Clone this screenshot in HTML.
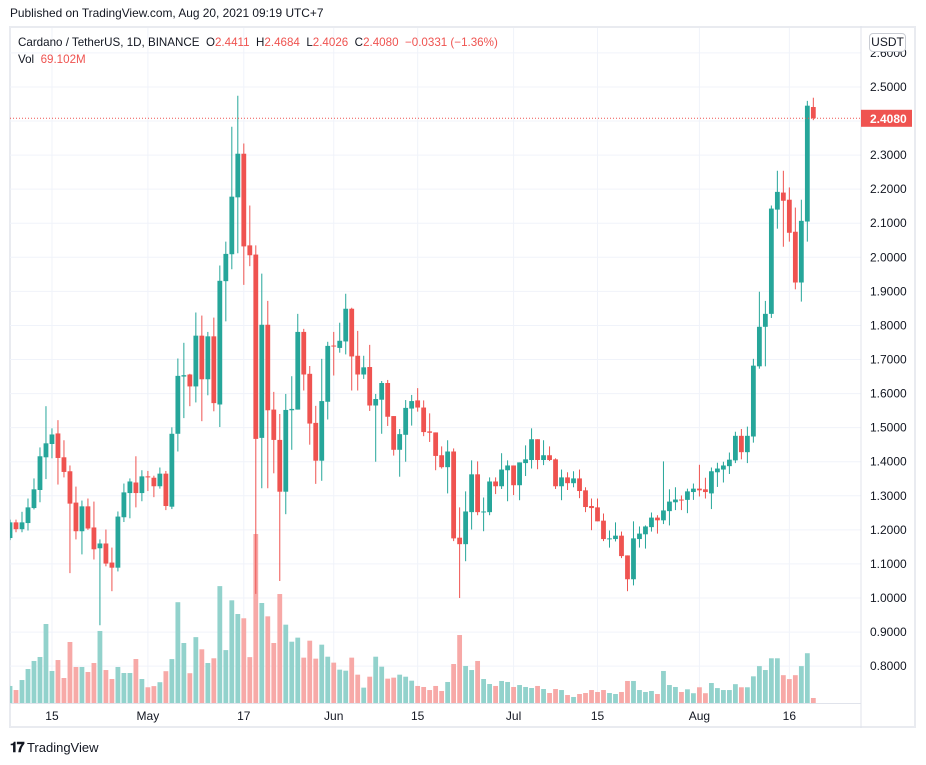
<!DOCTYPE html>
<html><head><meta charset="utf-8"><title>Cardano / TetherUS</title>
<style>
html,body{margin:0;padding:0;background:#fff;}
body{width:926px;height:765px;position:relative;overflow:hidden;font-family:"Liberation Sans",sans-serif;color:#131722;}
#pub{position:absolute;left:10px;top:6px;font-size:11.9px;color:#131722;}
#frame{position:absolute;left:9px;top:26px;width:907px;height:702px;border:2px solid #e9ebf0;box-sizing:border-box;}
#legend{position:absolute;left:18px;top:34px;font-size:11.6px;line-height:17px;}
#legend .r{color:#ef5350;}
#usdt{position:absolute;left:869px;top:33px;width:35px;height:17px;border:1px solid #c9ccd3;border-radius:4px;background:#fff;font-size:12px;text-align:center;line-height:17px;}
#logo{position:absolute;left:10px;top:739px;font-size:13px;color:#131722;}
svg{position:absolute;left:0;top:0;}
</style></head><body>
<div id="pub">Published on TradingView.com, Aug 20, 2021 09:19 UTC+7</div>
<div id="frame"></div>
<svg id="chart" width="926" height="765"></svg>
<div id="legend">Cardano / TetherUS, 1D, BINANCE&nbsp; O<span class="r">2.4411</span>&nbsp; H<span class="r">2.4684</span>&nbsp; L<span class="r">2.4026</span>&nbsp; C<span class="r">2.4080</span>&nbsp; <span class="r">−0.0331 (−1.36%)</span><br>Vol&nbsp; <span class="r">69.102M</span></div>
<div id="usdt">USDT</div>
<div id="logo"><b style="font-size:14px;letter-spacing:-1px">𝟏𝟕</b> TradingView</div>
<script>
const opens=[1.176,1.222,1.202,1.220,1.264,1.317,1.413,1.452,1.483,1.413,1.372,1.28,1.196,1.269,1.207,1.146,1.16,1.104,1.089,1.237,1.308,1.339,1.308,1.357,1.353,1.328,1.365,1.268,1.482,1.650,1.656,1.621,1.770,1.642,1.768,1.568,1.930,2.009,2.176,2.304,2.035,2.008,1.470,1.802,1.553,1.464,1.312,1.551,1.553,1.781,1.658,1.514,1.403,1.576,1.741,1.734,1.753,1.849,1.711,1.656,1.678,1.565,1.582,1.631,1.534,1.435,1.479,1.556,1.580,1.559,1.489,1.486,1.419,1.384,1.430,1.177,1.158,1.252,1.363,1.252,1.252,1.342,1.328,1.375,1.389,1.331,1.396,1.405,1.466,1.405,1.419,1.407,1.328,1.354,1.337,1.351,1.316,1.27,1.266,1.227,1.173,1.173,1.183,1.125,1.055,1.173,1.187,1.208,1.236,1.228,1.255,1.281,1.289,1.288,1.311,1.321,1.319,1.307,1.369,1.377,1.387,1.404,1.476,1.428,1.474,1.680,1.796,1.834,2.140,2.190,2.169,2.075,1.926,2.105,2.4411];
const highs=[1.23,1.230,1.253,1.292,1.351,1.442,1.563,1.498,1.522,1.463,1.389,1.327,1.286,1.292,1.283,1.172,1.201,1.148,1.254,1.336,1.351,1.416,1.375,1.373,1.359,1.383,1.373,1.501,1.703,1.749,1.658,1.838,1.829,1.781,1.823,1.976,2.046,2.383,2.474,2.334,2.152,2.035,1.952,1.872,1.605,1.540,1.599,1.651,1.834,1.790,1.681,1.564,1.702,1.752,1.781,1.808,1.893,1.852,1.784,1.711,1.743,1.599,1.637,1.640,1.534,1.496,1.581,1.596,1.616,1.580,1.542,1.486,1.445,1.463,1.439,1.266,1.313,1.404,1.401,1.295,1.354,1.354,1.425,1.404,1.389,1.398,1.448,1.498,1.466,1.463,1.445,1.41,1.377,1.369,1.372,1.377,1.325,1.292,1.292,1.248,1.198,1.222,1.195,1.125,1.225,1.210,1.213,1.251,1.243,1.401,1.319,1.325,1.301,1.321,1.336,1.391,1.353,1.383,1.397,1.400,1.427,1.488,1.496,1.503,1.702,1.899,1.872,2.152,2.254,2.254,2.205,2.146,2.169,2.459,2.4684];
const lows=[1.17,1.193,1.193,1.198,1.26,1.281,1.349,1.41,1.333,1.354,1.073,1.172,1.128,1.2,1.113,0.92,1.093,1.02,1.078,1.223,1.234,1.266,1.284,1.314,1.296,1.321,1.258,1.261,1.430,1.528,1.563,1.574,1.519,1.595,1.548,1.502,1.812,1.965,2.012,1.919,1.974,1.012,1.322,1.322,1.366,1.050,1.246,1.435,1.553,1.609,1.45,1.335,1.344,1.524,1.653,1.720,1.715,1.609,1.609,1.643,1.549,1.4,1.482,1.505,1.418,1.356,1.4,1.506,1.547,1.475,1.458,1.375,1.38,1.307,1.167,1.0,1.108,1.201,1.243,1.196,1.243,1.305,1.320,1.284,1.302,1.287,1.358,1.380,1.378,1.390,1.402,1.320,1.287,1.317,1.325,1.293,1.252,1.199,1.225,1.167,1.148,1.166,1.117,1.02,1.037,1.148,1.145,1.195,1.189,1.217,1.213,1.258,1.258,1.249,1.288,1.298,1.292,1.261,1.326,1.339,1.364,1.396,1.407,1.396,1.456,1.673,1.680,1.822,2.084,2.031,2.046,1.906,1.870,2.046,2.4026];
const closes=[1.222,1.202,1.222,1.266,1.319,1.416,1.454,1.480,1.411,1.37,1.277,1.196,1.269,1.204,1.143,1.16,1.101,1.089,1.239,1.31,1.342,1.308,1.357,1.354,1.328,1.365,1.270,1.482,1.652,1.654,1.621,1.770,1.642,1.768,1.572,1.931,2.010,2.178,2.304,2.032,2.006,1.467,1.802,1.551,1.464,1.312,1.552,1.555,1.781,1.656,1.512,1.403,1.578,1.740,1.739,1.755,1.849,1.709,1.656,1.677,1.565,1.584,1.631,1.532,1.435,1.481,1.558,1.578,1.559,1.487,1.485,1.417,1.384,1.430,1.175,1.158,1.254,1.363,1.252,1.254,1.342,1.328,1.377,1.389,1.331,1.398,1.407,1.466,1.405,1.419,1.405,1.328,1.354,1.337,1.351,1.314,1.267,1.264,1.225,1.173,1.175,1.183,1.123,1.055,1.175,1.189,1.210,1.236,1.228,1.257,1.283,1.289,1.287,1.313,1.321,1.316,1.311,1.372,1.380,1.389,1.406,1.476,1.428,1.476,1.682,1.796,1.834,2.143,2.192,2.166,2.072,1.926,2.107,2.445,2.4080];
const volumes=[235,179,317,469,580,635,1090,442,593,345,842,497,497,428,552,994,455,331,497,414,414,607,331,217,233,287,439,606,1391,828,411,909,741,552,617,1613,730,1417,1228,1169,633,2332,1380,1196,828,1504,1081,846,902,626,860,612,805,639,557,460,446,626,391,212,363,639,501,336,350,391,363,308,235,221,179,235,166,290,538,938,511,455,580,331,262,235,304,290,221,248,221,207,235,193,138,193,179,110,83,124,138,179,152,179,138,124,152,304,304,179,152,166,124,442,248,221,152,189,135,217,135,276,206,179,179,260,217,217,368,509,455,617,617,384,330,384,509,687,69.1];
const priceTicks=[0.8,0.9,1.0,1.1,1.2,1.3,1.4,1.5,1.6,1.7,1.8,1.9,2.0,2.1,2.2,2.3,2.4,2.5,2.6];
const dateTickLabels=["15","May","17","Jun","15","Jul","15","Aug","16"];
const dateTickIndex=[7,23,39,54,68,84,98,115,130];
const lastPrice=2.4080;

const NS="http://www.w3.org/2000/svg";
const svg=document.getElementById('chart');
const PL=10,PR=861,PT=28,PB=703;
function yPrice(p){return 598-(p-1)*340.7;}
function xIdx(i){return 10+i*5.995;}
function yVol(v){return PB-v/13.8;}
function mk(tag,attrs,parent){const e=document.createElementNS(NS,tag);for(const k in attrs)e.setAttribute(k,attrs[k]);(parent||svg).appendChild(e);return e;}

const defs=mk('defs',{});
const cp=mk('clipPath',{id:'clip'},defs);
mk('rect',{x:PL,y:PT,width:PR-PL,height:PB-PT},cp);

const grid=mk('g',{'clip-path':'url(#clip)'});


priceTicks.forEach(p=>{const y=yPrice(p);mk('line',{x1:PL,x2:PR,y1:y,y2:y,stroke:'#f0f3fa','stroke-width':1},grid);});
dateTickIndex.forEach(i=>{const x=xIdx(i);mk('line',{x1:x,x2:x,y1:PT,y2:PB,stroke:'#f0f3fa','stroke-width':1},grid);});

const vg=mk('g',{'clip-path':'url(#clip)'});


volumes.forEach((v,i)=>{const up=closes[i]>=opens[i];const y=yVol(v);
 const r=mk('rect',{x:xIdx(i)-2.4,y:y,width:4.8,height:PB-y,fill:up?'#92d2cc':'#f7a9a7'},vg);
 
 });

const cg=mk('g',{'clip-path':'url(#clip)'});


opens.forEach((o,i)=>{const c=closes[i];const up=c>=o;const col=up?'#26a69a':'#ef5350';const x=xIdx(i);
 const g=mk('g',{},cg);
 
 
 mk('line',{x1:x,x2:x,y1:yPrice(highs[i]),y2:yPrice(lows[i]),stroke:col,'stroke-width':1},g);
 const yt=yPrice(Math.max(o,c)),yb=yPrice(Math.min(o,c));
 mk('rect',{x:x-2.4,y:yt,width:4.8,height:Math.max(1,yb-yt),fill:col},g);});

const ly=yPrice(lastPrice);
const pl=mk('line',{x1:PL,x2:PR,y1:ly,y2:ly,stroke:'#ef5350','stroke-width':1,'stroke-dasharray':'1,2'});



const sep=mk('line',{x1:PR,x2:PR,y1:PT-2,y2:728,stroke:'#e0e3eb','stroke-width':1});


const base=mk('line',{x1:PL,x2:PR,y1:PB+0.5,y2:PB+0.5,stroke:'#e0e3eb','stroke-width':1});



const pa=mk('g',{});


priceTicks.forEach(p=>{const y=yPrice(p);if(y<40||y>690)return;
 const t=mk('text',{x:870,y:y+4,'font-size':12,fill:'#131722','font-family':'Liberation Sans, sans-serif'},pa);
 t.textContent=p.toFixed(4);
 
 });
const lb=mk('rect',{x:861,y:ly-8.5,width:51,height:17,fill:'#ef5350'},pa);


const lt=mk('text',{x:870,y:ly+4.5,'font-size':12,'font-weight':'bold',fill:'#fff','font-family':'Liberation Sans, sans-serif'},pa);
lt.textContent=lastPrice.toFixed(4);



const ta=mk('g',{});


dateTickIndex.forEach((i,k)=>{const t=mk('text',{x:xIdx(i),y:720,'font-size':12,fill:'#131722','text-anchor':'middle','font-family':'Liberation Sans, sans-serif'},ta);
 t.textContent=dateTickLabels[k];
 
 });
</script>
</body></html>
